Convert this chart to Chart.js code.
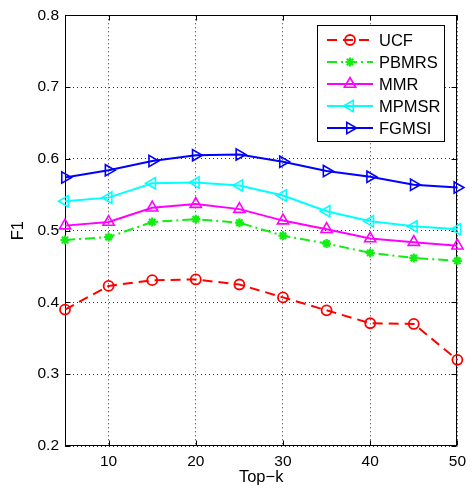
<!DOCTYPE html>
<html><head><meta charset="utf-8">
<script src="https://cdn.jsdelivr.net/npm/chart.js@4"></script>
<style>html,body{margin:0;padding:0;background:#fff}</style>
</head><body>
<canvas id="c" width="472" height="490"></canvas>
<script>
const topK = [5,10,15,20,25,30,35,40,45,50];
const xTicks = [10,20,30,40,50];
const yTicks = [0.2,0.3,0.4,0.5,0.6,0.7,0.8];
const seriesNames = ['UCF','PBMRS','MMR','MPMSR','FGMSI'];
const ucf   = [0.390,0.423,0.431,0.432,0.425,0.407,0.389,0.371,0.370,0.320];
const pbmrs = [0.487,0.491,0.512,0.516,0.511,0.493,0.482,0.469,0.462,0.458];
const mmr   = [0.507,0.512,0.532,0.537,0.530,0.514,0.502,0.489,0.484,0.479];
const mpmsr = [0.541,0.546,0.566,0.567,0.563,0.549,0.527,0.513,0.506,0.502];
const fgmsi = [0.574,0.584,0.597,0.605,0.606,0.596,0.583,0.575,0.564,0.560];

const styles = [
  {color:'#ff0000', dash:[10,6], point:'circle', r:5, rot:0, bw:1.8},
  {color:'#11ee11', dash:[10,4,2,4], point:'star', r:4.5, rot:0, bw:2.2},
  {color:'#ff00ff', dash:[], point:'triangle', r:6.5, rot:0, bw:1.6},
  {color:'#00ffff', dash:[], point:'triangle', r:6.5, rot:270, bw:1.6},
  {color:'#0000ff', dash:[], point:'triangle', r:6.5, rot:90, bw:1.6}
];
const seriesValues = [ucf, pbmrs, mmr, mpmsr, fgmsi];

Chart.defaults.font.family = "'Liberation Sans', Arial, Helvetica, sans-serif";
Chart.defaults.font.size = 15.5;
Chart.defaults.color = '#000';

function marker(ctx, style, r, rot, x, y){
  ctx.beginPath();
  if(style==='circle'){ ctx.arc(x,y,r,0,2*Math.PI); }
  else if(style==='triangle'){
    let a = rot*Math.PI/180;
    ctx.moveTo(x+Math.sin(a)*r, y-Math.cos(a)*r);
    a += 2*Math.PI/3; ctx.lineTo(x+Math.sin(a)*r, y-Math.cos(a)*r);
    a += 2*Math.PI/3; ctx.lineTo(x+Math.sin(a)*r, y-Math.cos(a)*r);
    ctx.closePath();
  } else if(style==='star'){
    for(let k=0;k<4;k++){
      const a=k*Math.PI/4;
      ctx.moveTo(x-Math.cos(a)*r, y-Math.sin(a)*r);
      ctx.lineTo(x+Math.cos(a)*r, y+Math.sin(a)*r);
    }
  }
  ctx.stroke();
}

const framePlugin = {
  id:'frame',
  beforeDatasetsDraw(chart){
    const {ctx, chartArea:a, scales:{x,y}} = chart;
    ctx.save();
    ctx.strokeStyle='#000'; ctx.lineWidth=1; ctx.setLineDash([]);
    const L=Math.round(a.left)+0.5, R=Math.round(a.right)-0.5, T=Math.round(a.top)+0.5, B=Math.round(a.bottom)-0.5;
    ctx.strokeRect(L,T,R-L,B-T);
    ctx.beginPath();
    xTicks.forEach(v=>{
      const px=Math.round(x.getPixelForValue(v))+0.5;
      ctx.moveTo(px,B); ctx.lineTo(px,B-5);
      ctx.moveTo(px,T); ctx.lineTo(px,T+5);
    });
    yTicks.forEach(v=>{
      const py=Math.round(y.getPixelForValue(v))+0.5;
      ctx.moveTo(L,py); ctx.lineTo(L+5,py);
      ctx.moveTo(R,py); ctx.lineTo(R-5,py);
    });
    ctx.stroke();
    ctx.restore();
  },
  afterDraw(chart){
    const ctx=chart.ctx;
    const bx=317.5, by=25.5, bw=127, bh=116;
    ctx.save();
    ctx.fillStyle='#fff'; ctx.fillRect(bx,by,bw,bh);
    ctx.strokeStyle='#000'; ctx.lineWidth=1; ctx.setLineDash([]);
    ctx.strokeRect(bx,by,bw,bh);
    chart.data.datasets.forEach((ds,i)=>{
      const st=styles[i];
      const yy=40+i*22;
      ctx.strokeStyle=st.color; ctx.lineWidth=2; ctx.setLineDash(st.dash);
      ctx.beginPath(); ctx.moveTo(327,yy); ctx.lineTo(373,yy); ctx.stroke();
      ctx.setLineDash([]); ctx.lineWidth=st.bw;
      marker(ctx, st.point, st.r, st.rot, 350, yy);
      ctx.fillStyle='#000'; ctx.font="16.5px 'Liberation Sans', Arial, sans-serif";
      ctx.textBaseline='middle'; ctx.textAlign='left';
      ctx.fillText(ds.label, 379, yy+1);
    });
    ctx.restore();
  }
};

new Chart(document.getElementById('c'), {
  type:'line',
  data:{
    datasets: seriesNames.map((n,i)=>({
      label:n,
      data: topK.map((k,j)=>({x:k, y:seriesValues[i][j]})),
      borderColor:styles[i].color,
      backgroundColor:'rgba(0,0,0,0)',
      borderWidth:2,
      borderDash:styles[i].dash,
      tension:0,
      pointStyle:styles[i].point,
      pointRadius:styles[i].r,
      pointRotation:styles[i].rot,
      pointBorderWidth:styles[i].bw,
      pointBorderColor:styles[i].color,
      pointBackgroundColor:'rgba(0,0,0,0)',
      clip:false,
      order: 5-i
    }))
  },
  options:{
    responsive:false,
    animation:false,
    events:[],
    layout:{padding:{left:0,right:14,top:13,bottom:0}},
    plugins:{legend:{display:false}, tooltip:{enabled:false}},
    scales:{
      x:{
        type:'linear', min:5, max:50,
        afterBuildTicks:s=>{s.ticks=xTicks.map(v=>({value:v}));},
        afterFit:s=>{s.height=44;},
        grid:{color:'#333', lineWidth:1, drawTicks:false},
        border:{display:false, dash:[1,3]},
        ticks:{padding:6},
        title:{display:true, text:'Top−k', font:{size:16.5}, padding:{top:0,bottom:3}}
      },
      y:{
        type:'linear', min:0.2, max:0.8,
        afterBuildTicks:s=>{s.ticks=yTicks.map(v=>({value:v}));},
        afterFit:s=>{s.width=65;},
        grid:{color:'#333', lineWidth:1, drawTicks:false},
        border:{display:false, dash:[1,3]},
        ticks:{padding:6, callback:v=>v.toFixed(1)},
        title:{display:true, text:'F1', font:{size:16.5}, padding:{top:9,bottom:0}}
      }
    }
  },
  plugins:[framePlugin]
});
</script>
</body></html>
